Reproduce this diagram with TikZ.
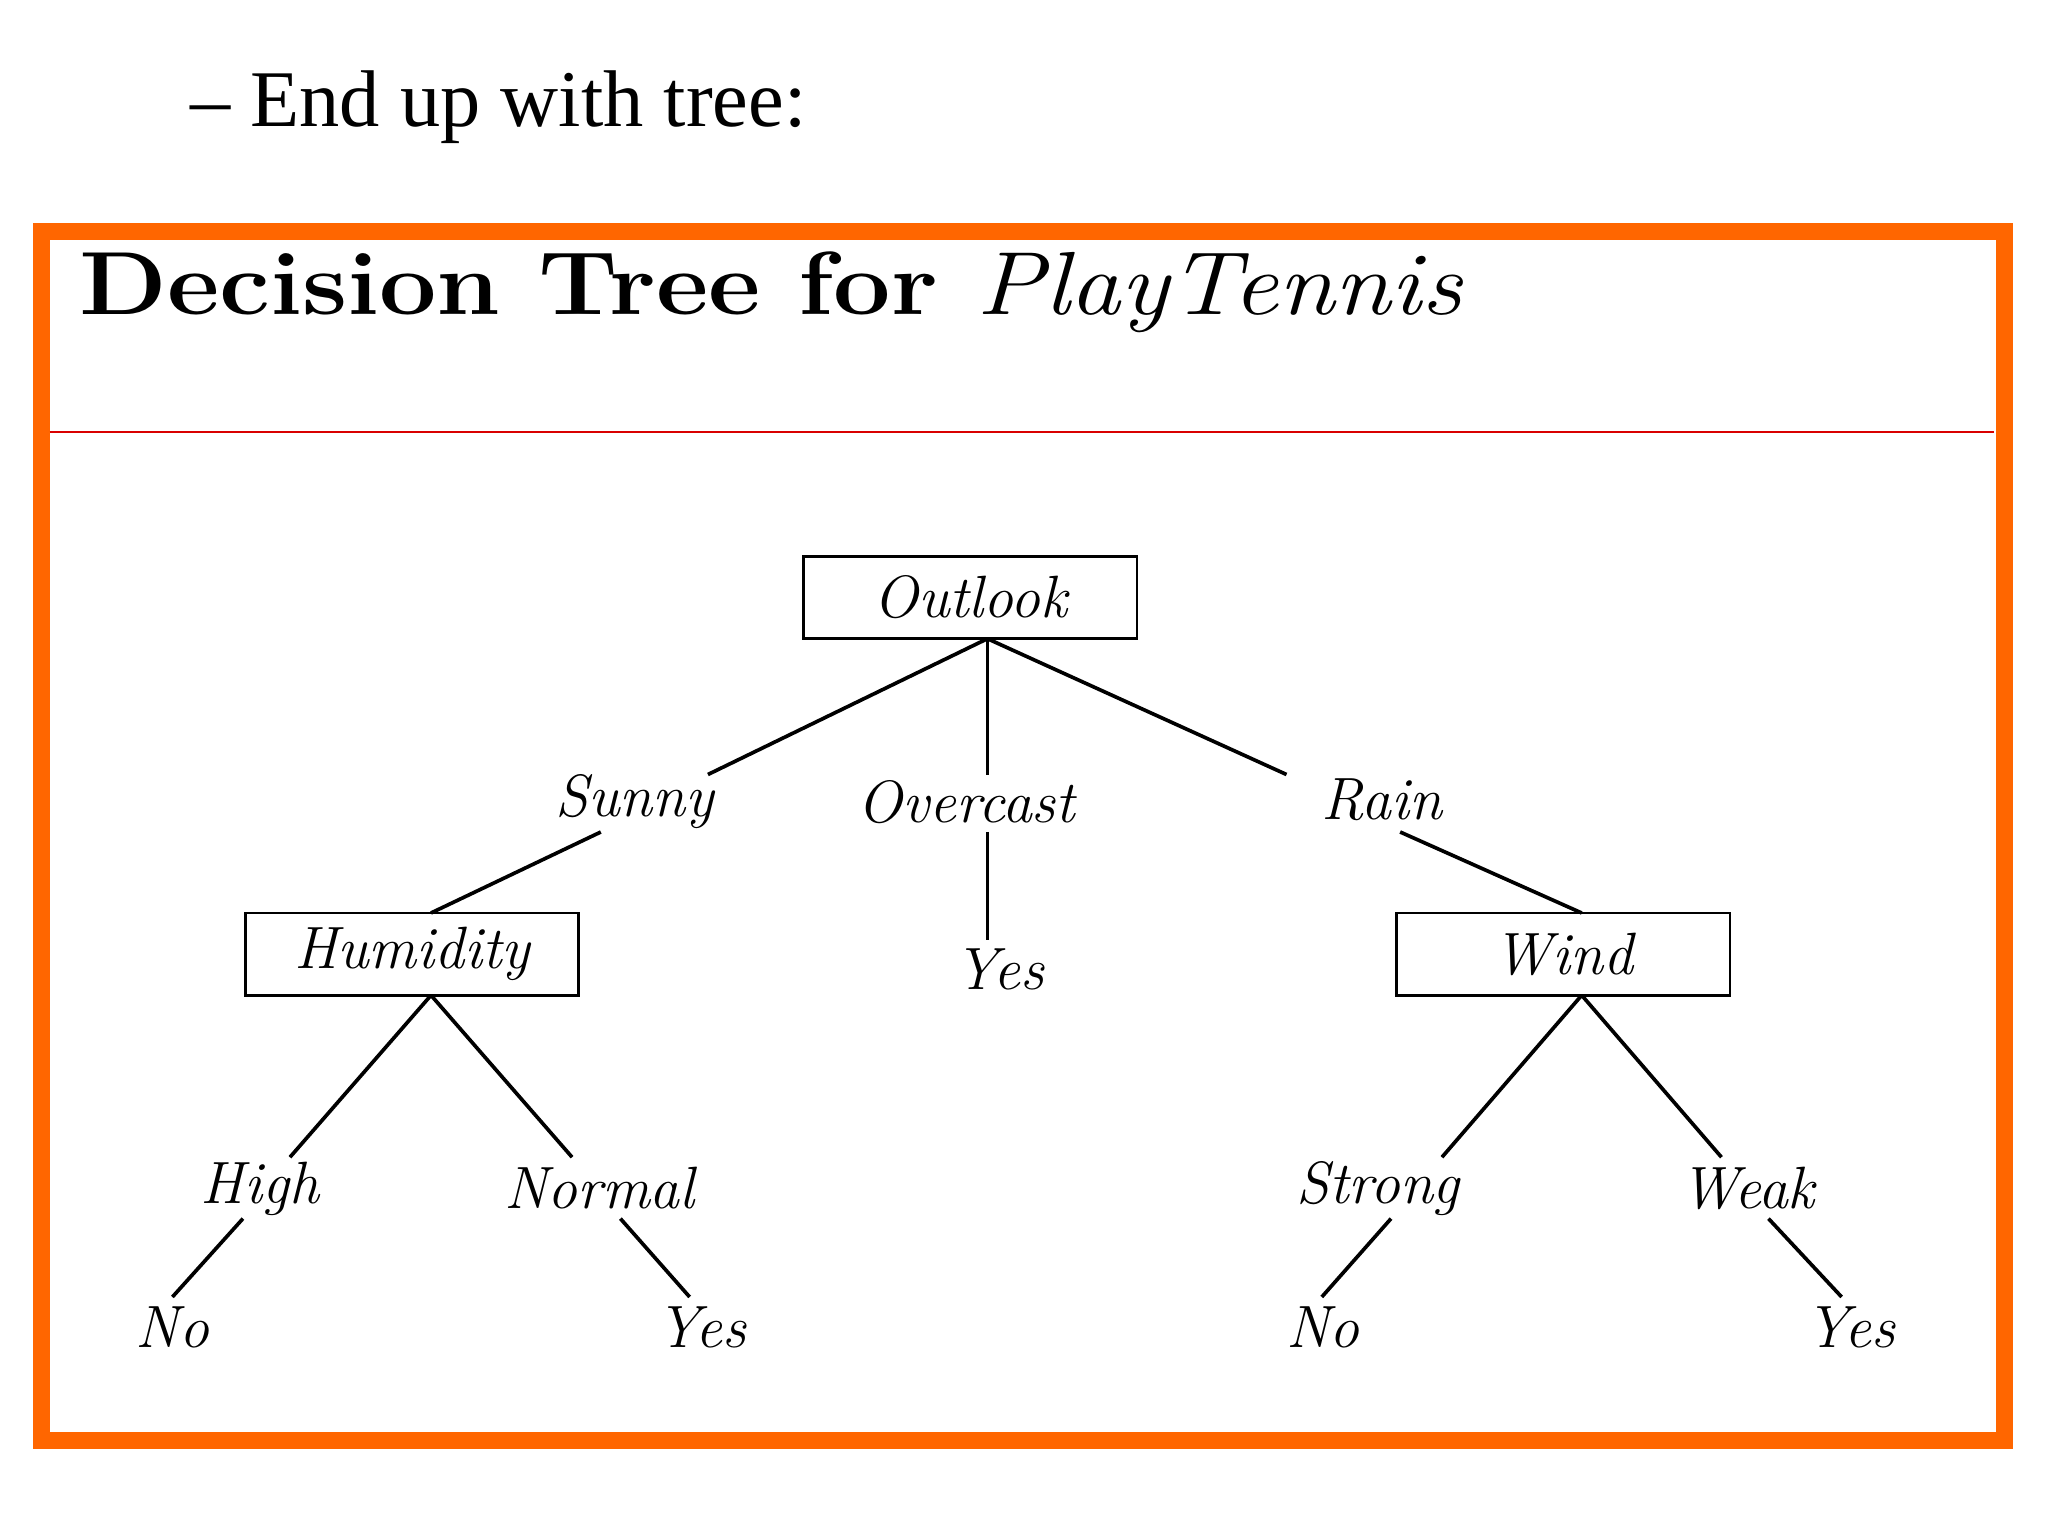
\documentclass[tikz,border=0pt]{standalone}
\usepackage{fontspec}
\newfontfamily\timesf{Liberation Serif}
\begin{document}
\begin{tikzpicture}[x=0.01cm,y=-0.01cm,
  lbl/.style={font=\fontsize{13}{15}\selectfont\itshape, inner sep=0pt},
  box/.style={draw, line width=0.6pt, minimum width=2.55cm, minimum height=0.63cm, inner sep=0pt, font=\fontsize{13}{15}\selectfont\itshape},
  edge/.style={line width=0.8pt}]
\useasboundingbox (0,0) rectangle (1568,1176);
\fill[white] (0,0) rectangle (1568,1176);
\node[font=\timesf\fontsize{17.5}{20}\selectfont, anchor=west, inner sep=0pt] (head) at (145,82) {– End up with tree:};
\draw[line width=3.7pt, draw={rgb,255:red,255;green,102;blue,0}] (32,177) rectangle (1535,1103);
\coordinate (rl) at (38,331); \coordinate (rr) at (1527,331);
\draw[red!85!black, line width=0.4pt] (rl) -- (rr);
\node[anchor=west, inner sep=0pt] (title) at (60,224) {\resizebox{10.58cm}{0.48cm}{\bfseries\fontsize{17}{20}\selectfont Decision Tree for \itshape\mdseries PlayTennis}};
% boxes
\node[box] (outlook) at (743,457.5) {Outlook};
\node[box] (humid) at (315.5,730.5) {Humidity};
\node[box] (wind) at (1197,730.5) {Wind};
% labels
\node[lbl] (sunny) at (486,614) {Sunny};
\node[lbl] (overc) at (740,614) {Overcast};
\node[lbl] (rain) at (1058,612) {Rain};
\node[lbl] (yes0) at (765,742) {Yes};
\node[lbl] (high) at (199,910) {High};
\node[lbl] (normal) at (459,910) {Normal};
\node[lbl] (no1) at (132,1016) {No};
\node[lbl] (yes1) at (537,1016) {Yes};
\node[lbl] (strong) at (1055,910) {Strong};
\node[lbl] (weak) at (1338,910) {Weak};
\node[lbl] (no2) at (1013,1016) {No};
\node[lbl] (yes2) at (1417,1016) {Yes};
% endpoints
\coordinate (o) at (756,489);
\coordinate (s1) at (542,593); \coordinate (ov1) at (756,593); \coordinate (r1) at (985,593);
\coordinate (s2) at (460,637); \coordinate (h0) at (330,699);
\coordinate (ov2) at (756,637); \coordinate (ov3) at (756,720);
\coordinate (r2) at (1072,637); \coordinate (w0) at (1211,699);
\coordinate (hb) at (330,762); \coordinate (hi1) at (222,886); \coordinate (no1a) at (438,886);
\coordinate (hi2) at (186,933); \coordinate (n1) at (132,993);
\coordinate (no1b) at (475,933); \coordinate (y1) at (528,993);
\coordinate (wb) at (1211,762); \coordinate (st1) at (1104,886); \coordinate (wk1) at (1318,886);
\coordinate (st2) at (1065,933); \coordinate (n2) at (1012,993);
\coordinate (wk2) at (1354,933); \coordinate (y2) at (1410,993);
\draw[edge] (o) -- (s1); \draw[edge] (o) -- (ov1); \draw[edge] (o) -- (r1);
\draw[edge] (s2) -- (h0); \draw[edge] (ov2) -- (ov3); \draw[edge] (r2) -- (w0);
\draw[edge] (hb) -- (hi1); \draw[edge] (hb) -- (no1a);
\draw[edge] (hi2) -- (n1); \draw[edge] (no1b) -- (y1);
\draw[edge] (wb) -- (st1); \draw[edge] (wb) -- (wk1);
\draw[edge] (st2) -- (n2); \draw[edge] (wk2) -- (y2);
\end{tikzpicture}
\end{document}
